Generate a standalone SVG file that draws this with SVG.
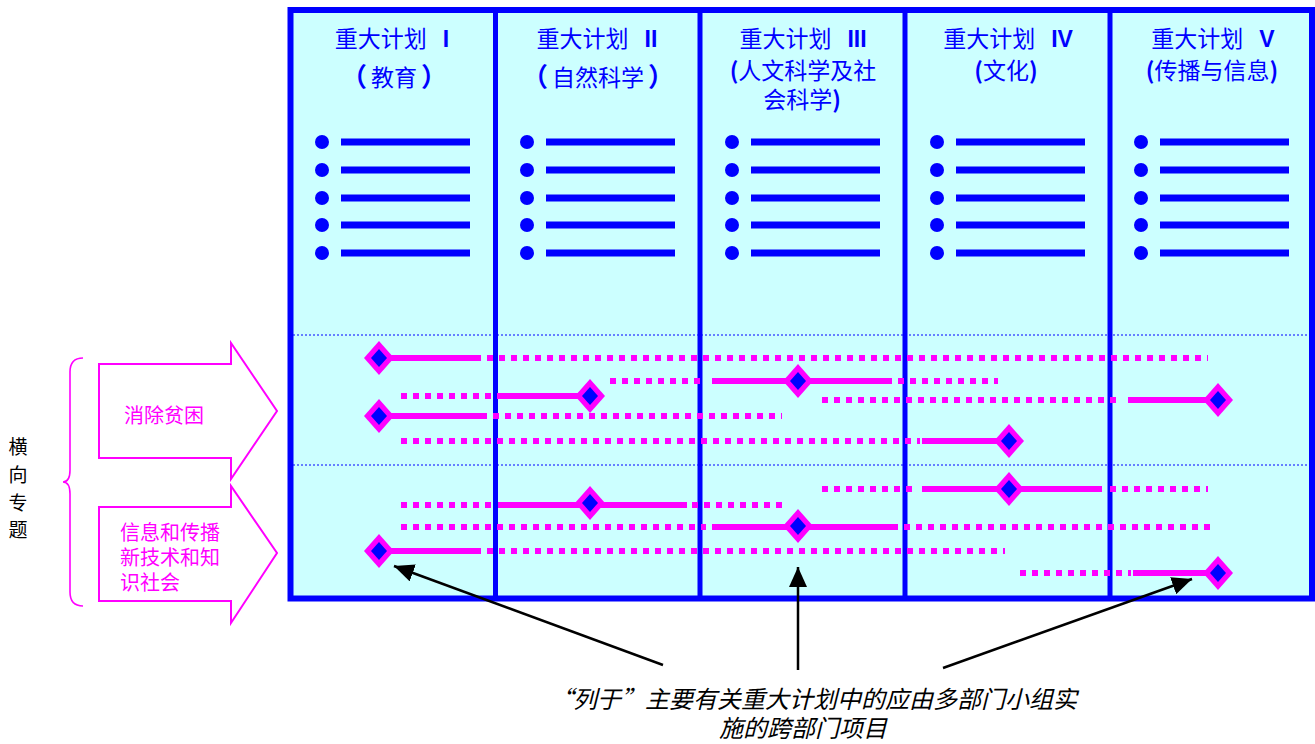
<svg xmlns="http://www.w3.org/2000/svg" xmlns:xlink="http://www.w3.org/1999/xlink" width="1315" height="744" viewBox="0 0 1315 744">
<style>
.hd{font-family:"Noto Sans CJK SC","Liberation Sans",sans-serif;font-size:23px;fill:#0000FF;text-anchor:middle}
.rn{font-family:"Liberation Sans",Arial,sans-serif;font-weight:bold}
.pb{font-weight:bold}
.pw{font-weight:bold;font-size:26px}
.bul{fill:#0000FF}
.bl{stroke:#0000FF;stroke-width:7}
.div{stroke:#0000FF;stroke-width:5}
.sep{stroke:#0000FF;stroke-width:1;stroke-dasharray:2 2}
.sol{stroke:#FF00FF;stroke-width:6;fill:none}
.dot{stroke:#FF00FF;stroke-width:6;stroke-dasharray:6 6;fill:none}
.mg{font-family:"Noto Sans CJK SC",sans-serif;font-size:20px;fill:#FF00FF}
.blk{font-family:"Noto Sans CJK SC",sans-serif;font-size:19px;fill:#000;text-anchor:middle}
.note{font-family:"Noto Sans CJK SC",sans-serif;font-size:24px;font-style:italic;fill:#000;text-anchor:middle}
.fw{font-feature-settings:"fwid"}
.ptr{stroke:#000;stroke-width:2.5;fill:none}
</style>
<defs>
<g id="dm">
<polygon points="0,-17 15,0 0,17 -15,0" fill="#FF00FF"/>
<polygon points="0,-9 8,0 0,9 -8,0" fill="#0000FF"/>
</g>
<g id="bullets">
<circle class="bul" cx="31" cy="142" r="7"/><line class="bl" x1="50" y1="142" x2="179" y2="142"/>
<circle class="bul" cx="31" cy="170" r="7"/><line class="bl" x1="50" y1="170" x2="179" y2="170"/>
<circle class="bul" cx="31" cy="198" r="7"/><line class="bl" x1="50" y1="198" x2="179" y2="198"/>
<circle class="bul" cx="31" cy="225" r="7"/><line class="bl" x1="50" y1="225" x2="179" y2="225"/>
<circle class="bul" cx="31" cy="253" r="7"/><line class="bl" x1="50" y1="253" x2="179" y2="253"/>
</g>
<marker id="ah" viewBox="0 0 20 18" refX="20" refY="9" markerWidth="20" markerHeight="18" markerUnits="userSpaceOnUse" orient="auto">
<path d="M0,0 L20,9 L0,18 z" fill="#000"/>
</marker>
</defs>

<g id="frame">
<rect x="290.5" y="10" width="1021.5" height="588.5" fill="#CCFFFF" stroke="#0000FF" stroke-width="6"/>
<line class="sep" x1="293" y1="335" x2="1310" y2="335"/>
<line class="sep" x1="293" y1="465" x2="1310" y2="465"/>
<line class="div" x1="495.5" y1="10" x2="495.5" y2="598"/>
<line class="div" x1="700" y1="10" x2="700" y2="598"/>
<line class="div" x1="905" y1="10" x2="905" y2="598"/>
<line class="div" x1="1110" y1="10" x2="1110" y2="598"/>
</g>

<g id="plan1">
<text class="hd" x="392" y="47">重大计划<tspan class="rn" dx="16">I</tspan></text>
<text class="hd" x="394" y="86"><tspan class="pw">（</tspan><tspan dx="4">教育</tspan><tspan class="pw" dx="4">）</tspan></text>
<use xlink:href="#bullets" href="#bullets" x="291" y="0"/>
</g>
<g id="plan2">
<text class="hd" x="597" y="47">重大计划<tspan class="rn" dx="16">II</tspan></text>
<text class="hd" x="598" y="86"><tspan class="pw">（</tspan><tspan dx="4">自然科学</tspan><tspan class="pw" dx="4">）</tspan></text>
<use xlink:href="#bullets" href="#bullets" x="496" y="0"/>
</g>
<g id="plan3">
<text class="hd" x="803" y="47">重大计划<tspan class="rn" dx="16">III</tspan></text>
<text class="hd" x="803" y="79"><tspan class="pb">(</tspan>人文科学及社</text>
<text class="hd" x="802" y="108">会科学<tspan class="pb">)</tspan></text>
<use xlink:href="#bullets" href="#bullets" x="701" y="0"/>
</g>
<g id="plan4">
<text class="hd" x="1008" y="47">重大计划<tspan class="rn" dx="16">IV</tspan></text>
<text class="hd" x="1006" y="79"><tspan class="pb">(</tspan>文化<tspan class="pb">)</tspan></text>
<use xlink:href="#bullets" href="#bullets" x="906" y="0"/>
</g>
<g id="plan5">
<text class="hd" x="1213" y="47">重大计划<tspan class="rn" dx="16">V</tspan></text>
<text class="hd" x="1212" y="79"><tspan class="pb">(</tspan>传播与信息<tspan class="pb">)</tspan></text>
<use xlink:href="#bullets" href="#bullets" x="1110" y="0"/>
</g>

<g id="projects">
<line class="sol" x1="379" y1="358" x2="475" y2="358"/><line class="dot" x1="475" y1="358" x2="1208" y2="358"/><use xlink:href="#dm" href="#dm" x="379" y="358"/>
<line class="dot" x1="610" y1="381" x2="706" y2="381"/><line class="sol" x1="712" y1="381" x2="892" y2="381"/><line class="dot" x1="898" y1="381" x2="998" y2="381"/><use xlink:href="#dm" href="#dm" x="798" y="381"/>
<line class="dot" x1="401" y1="396" x2="497" y2="396"/><line class="sol" x1="497" y1="396" x2="590" y2="396"/><use xlink:href="#dm" href="#dm" x="590" y="396"/>
<line class="dot" x1="822" y1="400" x2="1120" y2="400"/><line class="sol" x1="1128" y1="400" x2="1218" y2="400"/><use xlink:href="#dm" href="#dm" x="1218" y="400"/>
<line class="sol" x1="379" y1="416" x2="481" y2="416"/><line class="dot" x1="481" y1="416" x2="782" y2="416"/><use xlink:href="#dm" href="#dm" x="379" y="416"/>
<line class="dot" x1="401" y1="441" x2="920" y2="441"/><line class="sol" x1="922" y1="441" x2="1009" y2="441"/><use xlink:href="#dm" href="#dm" x="1009" y="441"/>

<line class="dot" x1="822" y1="489" x2="918" y2="489"/><line class="sol" x1="922" y1="489" x2="1102" y2="489"/><line class="dot" x1="1110" y1="489" x2="1208" y2="489"/><use xlink:href="#dm" href="#dm" x="1009" y="489"/>
<line class="dot" x1="401" y1="505" x2="494" y2="505"/><line class="sol" x1="498" y1="505" x2="687" y2="505"/><line class="dot" x1="692" y1="505" x2="782" y2="505"/><use xlink:href="#dm" href="#dm" x="590" y="503"/>
<line class="dot" x1="401" y1="527" x2="706" y2="527"/><line class="sol" x1="712" y1="527" x2="898" y2="527"/><line class="dot" x1="904" y1="527" x2="1210" y2="527"/><use xlink:href="#dm" href="#dm" x="798" y="526"/>
<line class="sol" x1="379" y1="551" x2="475" y2="551"/><line class="dot" x1="475" y1="551" x2="1005" y2="551"/><use xlink:href="#dm" href="#dm" x="379" y="551"/>
<line class="dot" x1="1020" y1="573" x2="1131" y2="573"/><line class="sol" x1="1133" y1="573" x2="1218" y2="573"/><use xlink:href="#dm" href="#dm" x="1218" y="573"/>
</g>

<g id="theme-label">
<text class="blk" x="18" y="454">横</text>
<text class="blk" x="18" y="482">向</text>
<text class="blk" x="18" y="510">专</text>
<text class="blk" x="18" y="537">题</text>
</g>
<g id="brace">
<path d="M83,358 Q70,358 70,372 L70,470 Q70,482 63,482 Q70,482 70,494 L70,592 Q70,606 83,606" fill="none" stroke="#FF00FF" stroke-width="1.6"/>
</g>
<g id="theme1">
<polygon points="99,364 231,364 231,343 277,411 231,479 231,458 99,458" fill="none" stroke="#FF00FF" stroke-width="2"/>
<text class="mg" x="124" y="423">消除贫困</text>
</g>
<g id="theme2">
<polygon points="99,507 231,507 231,486 277,553 231,623 231,601 99,601" fill="none" stroke="#FF00FF" stroke-width="2"/>
<text class="mg" x="120" y="540">信息和传播</text>
<text class="mg" x="120" y="565">新技术和知</text>
<text class="mg" x="120" y="590">识社会</text>
</g>

<g id="connectors">
<line class="ptr" x1="663" y1="665" x2="394" y2="566" marker-end="url(#ah)"/>
<line class="ptr" x1="798" y1="670" x2="798" y2="567" marker-end="url(#ah)"/>
<line class="ptr" x1="943" y1="668" x2="1192" y2="579" marker-end="url(#ah)"/>
</g>

<g id="note">
<text class="note" x="813" y="708"><tspan class="fw">“</tspan>列于<tspan class="fw">”</tspan>主要有关重大计划中的应由多部门小组实</text>
<text class="note" x="803" y="737">施的跨部门项目</text>
</g>
</svg>
